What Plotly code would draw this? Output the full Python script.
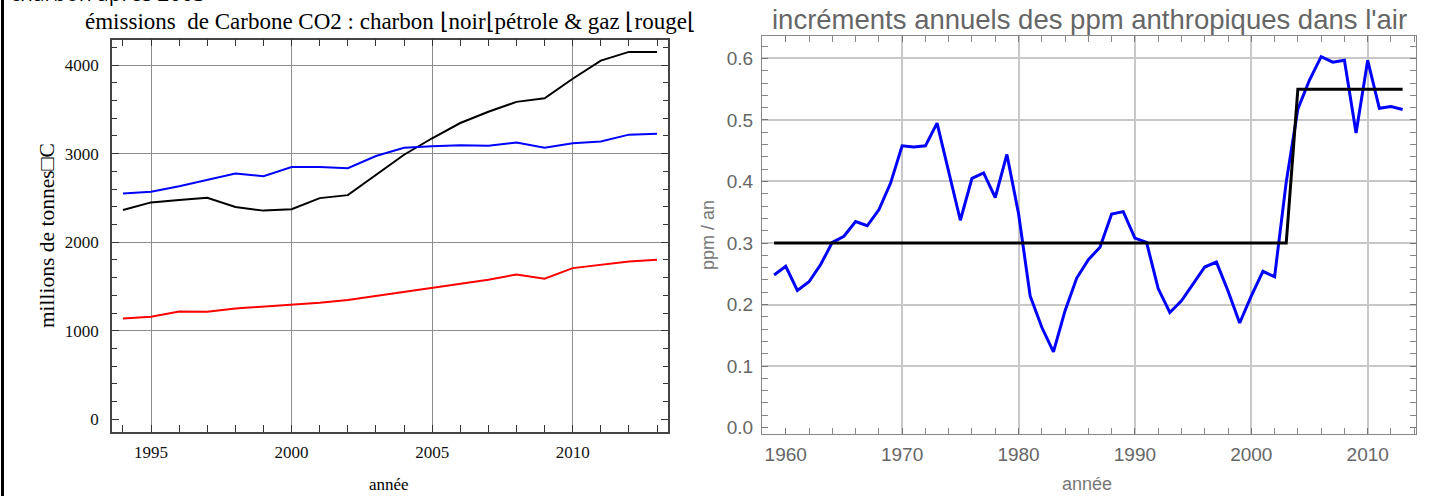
import plotly.graph_objects as go

# ---- Émissions de carbone (millions de tonnes C), 1994-2013 ----
annees_emis = list(range(1994, 2014))
charbon = [2363, 2449, 2475, 2502, 2397, 2356, 2371, 2497, 2531, 2755,
           2987, 3173, 3345, 3472, 3584, 3625, 3845, 4050, 4148, 4148]
petrole = [2550, 2569, 2632, 2707, 2774, 2744, 2849, 2849, 2835, 2972,
           3065, 3084, 3095, 3088, 3125, 3065, 3117, 3136, 3214, 3225]
gaz = [1139, 1158, 1217, 1214, 1251, 1273, 1292, 1315, 1348, 1393,
       1438, 1483, 1523, 1576, 1635, 1587, 1707, 1740, 1781, 1800]

# ---- Incréments annuels des ppm anthropiques, 1959-2013 ----
annees_ppm = list(range(1959, 2014))
increments = [0.248, 0.262, 0.223, 0.237, 0.265, 0.301, 0.311, 0.335, 0.328, 0.354, 0.397,
              0.458, 0.456, 0.458, 0.495, 0.418, 0.337, 0.405, 0.414, 0.374, 0.444,
              0.348, 0.214, 0.163, 0.123, 0.190, 0.243, 0.273, 0.293, 0.347, 0.351,
              0.308, 0.301, 0.226, 0.187, 0.206, 0.233, 0.261, 0.269, 0.222, 0.170,
              0.214, 0.254, 0.245, 0.399, 0.518, 0.565, 0.603, 0.594, 0.597, 0.479,
              0.597, 0.519, 0.522, 0.517]
palier_annees = [1959, 2003, 2004, 2013]
palier_valeurs = [0.30, 0.30, 0.55, 0.55]

W, H = 1443, 500
SERIF = "Liberation Serif"
SANS = "Liberation Sans"


def fx(p):
    return p / W


def fy(p):
    return 1 - p / H


fig = go.Figure()

# left panel
fig.add_trace(go.Scatter(x=annees_emis, y=charbon, mode="lines",
                         line=dict(color="black", width=2), xaxis="x", yaxis="y"))
fig.add_trace(go.Scatter(x=annees_emis, y=petrole, mode="lines",
                         line=dict(color="#0000ff", width=2), xaxis="x", yaxis="y"))
fig.add_trace(go.Scatter(x=annees_emis, y=gaz, mode="lines",
                         line=dict(color="#ff0000", width=2), xaxis="x", yaxis="y"))
# grid-only overlay for the left panel
fig.add_trace(go.Scatter(x=[], y=[], xaxis="x", yaxis="y3", hoverinfo="skip"))

# right panel
fig.add_trace(go.Scatter(x=annees_ppm, y=increments, mode="lines",
                         line=dict(color="#0000ff", width=3), xaxis="x2", yaxis="y2"))
fig.add_trace(go.Scatter(x=palier_annees, y=palier_valeurs, mode="lines",
                         line=dict(color="black", width=3), xaxis="x2", yaxis="y2"))
# grid-only overlays for the right panel
fig.add_trace(go.Scatter(x=[], y=[], xaxis="x2", yaxis="y4", hoverinfo="skip"))
fig.add_trace(go.Scatter(x=[], y=[], xaxis="x4", yaxis="y2", hoverinfo="skip"))

L_X0, L_X1, L_Y0, L_Y1 = 112, 668, 40, 435
R_X0, R_X1, R_Y0, R_Y1 = 762, 1416, 36, 438

left_x_range = [1993.61, 2013.39]
left_y_range = [-138, 4286]
right_x_range = [1957.96, 2014.15]
right_y_range = [-0.0113, 0.637]

serif_tick = dict(family=SERIF, size=17, color="#111")
sans_tick = dict(family=SANS, size=19, color="#666")

fig.update_layout(
    width=W, height=H,
    margin=dict(l=0, r=0, t=0, b=0),
    paper_bgcolor="white", plot_bgcolor="white",
    showlegend=False,
    xaxis=dict(domain=[fx(L_X0), fx(L_X1)], range=left_x_range, anchor="y",
               tickmode="linear", tick0=1995, dtick=5,
               ticks="inside", ticklen=7, tickcolor="#333", tickwidth=1,
               mirror="allticks", showline=True, linecolor="#444", linewidth=1.5,
               showgrid=True, gridcolor="#8c8c8c", gridwidth=1, zeroline=False,
               minor=dict(ticks="inside", tick0=1994, dtick=1, ticklen=5,
                          tickcolor="#333", showgrid=False),
               tickfont=serif_tick, ticklabelstandoff=4),
    yaxis=dict(domain=[fy(L_Y1), fy(L_Y0)], range=left_y_range, anchor="x",
               tickmode="linear", tick0=0, dtick=1000,
               ticks="inside", ticklen=7, tickcolor="#333", tickwidth=1,
               mirror="allticks", showline=True, linecolor="#444", linewidth=1.5,
               showgrid=False, zeroline=False,
               minor=dict(ticks="inside", tick0=0, dtick=200, ticklen=5,
                          tickcolor="#333", showgrid=False),
               tickfont=serif_tick, ticklabelstandoff=8),
    yaxis3=dict(overlaying="y", range=left_y_range, anchor="x",
                tickvals=[1000, 2000, 3000, 4000], showticklabels=False, ticks="",
                showline=False, zeroline=False,
                showgrid=True, gridcolor="#8c8c8c", gridwidth=1),
    xaxis2=dict(domain=[fx(R_X0), fx(R_X1)], range=right_x_range, anchor="y2",
                tickmode="linear", tick0=1960, dtick=10,
                ticks="inside", ticklen=6, tickcolor="#777", tickwidth=1,
                mirror="allticks", showline=True, linecolor="#888", linewidth=1.2,
                showgrid=False, zeroline=False,
                minor=dict(ticks="inside", tick0=1960, dtick=2, ticklen=3.5,
                           tickcolor="#888", showgrid=False),
                tickfont=sans_tick, ticklabelstandoff=3),
    yaxis2=dict(domain=[fy(R_Y1), fy(R_Y0)], range=right_y_range, anchor="x2",
                tickmode="linear", tick0=0, dtick=0.1, tickformat=".1f",
                ticks="inside", ticklen=6, tickcolor="#777", tickwidth=1,
                mirror="allticks", showline=True, linecolor="#888", linewidth=1.2,
                showgrid=False, zeroline=False,
                minor=dict(ticks="inside", tick0=0, dtick=0.02, ticklen=3.5,
                           tickcolor="#888", showgrid=False),
                tickfont=sans_tick, ticklabelstandoff=4),
    yaxis4=dict(overlaying="y2", range=right_y_range, anchor="x2",
                tickvals=[0.1, 0.2, 0.3, 0.4, 0.5, 0.6], showticklabels=False, ticks="",
                showline=False, zeroline=False,
                showgrid=True, gridcolor="#c8c8c8", gridwidth=1.5),
    xaxis4=dict(overlaying="x2", range=right_x_range, anchor="y2",
                tickvals=[1970, 1980, 1990, 2000, 2010], showticklabels=False, ticks="",
                showline=False, zeroline=False,
                showgrid=True, gridcolor="#c8c8c8", gridwidth=1.5),
)

annotations = [
    # caption line partly above the page edge
    dict(text="charbon après 2003", x=fx(8), y=fy(-7), xanchor="left", yanchor="middle",
         font=dict(family="Open Sans", size=21, color="black")),
    dict(text="émissions  de Carbone CO2 : charbon ⌊noir⌊pétrole & gaz ⌊rouge⌊",
         x=fx(390), y=fy(22), xanchor="center", yanchor="middle",
         font=dict(family=SERIF, size=23, color="black")),
    dict(text="millions de tonnes□C", x=fx(47), y=fy(237), textangle=-90,
         xanchor="center", yanchor="middle",
         font=dict(family=SERIF, size=21.5, color="black")),
    dict(text="année", x=fx(389), y=fy(488), xanchor="center", yanchor="middle",
         font=dict(family=SERIF, size=17, color="black")),
    dict(text="incréments annuels des ppm anthropiques dans l'air",
         x=fx(1089), y=fy(20), xanchor="center", yanchor="middle",
         font=dict(family=SANS, size=27.5, color="#666")),
    dict(text="ppm / an", x=fx(708), y=fy(237), textangle=-90,
         xanchor="center", yanchor="middle",
         font=dict(family=SANS, size=18, color="#777")),
    dict(text="année", x=fx(1087), y=fy(488), xanchor="center", yanchor="middle",
         font=dict(family=SANS, size=18, color="#777")),
]
for a in annotations:
    a.update(xref="paper", yref="paper", showarrow=False)
fig.update_layout(annotations=annotations)

# page border on the left
fig.add_shape(type="line", xref="paper", yref="paper",
              x0=fx(2.5), x1=fx(2.5), y0=0, y1=1,
              line=dict(color="black", width=3))

fig.write_html("out.html")
